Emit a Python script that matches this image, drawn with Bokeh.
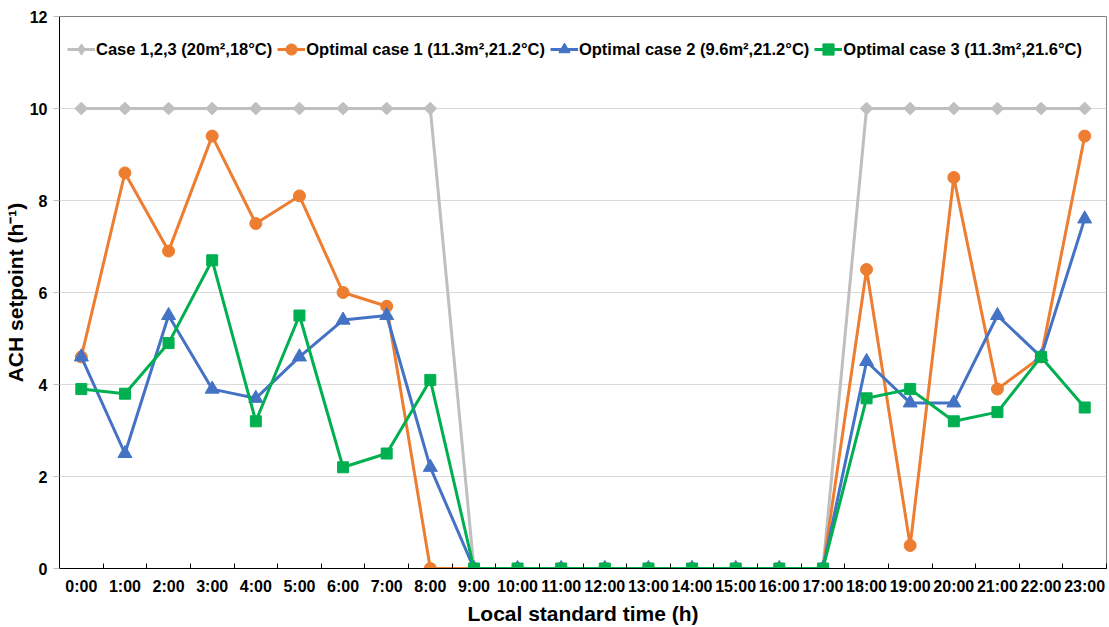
import math

import numpy as np
from bokeh.plotting import figure
from bokeh.models import FixedTicker, Legend, LegendItem, Range1d
from bokeh.embed import file_html
from bokeh.resources import INLINE

# Hourly ACH setpoints over one day
hours = ["0:00", "1:00", "2:00", "3:00", "4:00", "5:00", "6:00", "7:00",
         "8:00", "9:00", "10:00", "11:00", "12:00", "13:00", "14:00", "15:00",
         "16:00", "17:00", "18:00", "19:00", "20:00", "21:00", "22:00", "23:00"]

case_base = [10, 10, 10, 10, 10, 10, 10, 10, 10, 0, 0, 0, 0, 0, 0, 0, 0, 0,
             10, 10, 10, 10, 10, 10]
optimal_1 = [4.6, 8.6, 6.9, 9.4, 7.5, 8.1, 6.0, 5.7, 0, 0, 0, 0, 0, 0, 0, 0, 0, 0,
             6.5, 0.5, 8.5, 3.9, 4.6, 9.4]
optimal_2 = [4.6, 2.5, 5.5, 3.9, 3.7, 4.6, 5.4, 5.5, 2.2, 0, 0, 0, 0, 0, 0, 0, 0, 0,
             4.5, 3.6, 3.6, 5.5, 4.6, 7.6]
optimal_3 = [3.9, 3.8, 4.9, 6.7, 3.2, 5.5, 2.2, 2.5, 4.1, 0, 0, 0, 0, 0, 0, 0, 0, 0,
             3.7, 3.9, 3.2, 3.4, 4.6, 3.5]

series_labels = ["Case 1,2,3 (20m\u00b2,18\u00b0C)",
                 "Optimal case 1 (11.3m\u00b2,21.2\u00b0C)",
                 "Optimal case 2 (9.6m\u00b2,21.2\u00b0C)",
                 "Optimal case 3 (11.3m\u00b2,21.6\u00b0C)"]
y_ticks = [0, 2, 4, 6, 8, 10, 12]

FONT = "Liberation Sans"
x_idx = list(range(len(hours)))

p = figure(width=1109, height=627, output_backend="svg", toolbar_location=None,
           title=None, x_range=Range1d(-0.5, len(hours) - 0.5), y_range=Range1d(0, 12),
           min_border_left=59, min_border_right=3, min_border_top=16,
           min_border_bottom=58)
p.background_fill_color = "white"
p.border_fill_color = "white"
p.outline_line_color = "#808080"
p.outline_line_width = 1

# grid
p.xgrid.visible = False
p.ygrid.grid_line_color = "#D9D9D9"
p.ygrid.grid_line_width = 1

# x axis: labels at hour centres, tick marks on the boundaries between hours
xa = p.xaxis[0]
xa.ticker = FixedTicker(ticks=x_idx, minor_ticks=[i - 0.5 for i in range(len(hours) + 1)])
xa.major_label_overrides = {i: h for i, h in enumerate(hours)}
xa.major_tick_in = 0
xa.major_tick_out = 0
xa.minor_tick_in = 5
xa.minor_tick_out = 0
xa.minor_tick_line_color = "#000000"
xa.axis_line_color = "#000000"
xa.major_label_standoff = 9
xa.axis_label = "Local standard time (h)"
xa.axis_label_standoff = 4

ya = p.yaxis[0]
ya.ticker = FixedTicker(ticks=y_ticks)
ya.major_tick_in = 0
ya.major_tick_out = 6
ya.major_tick_line_color = "#BFBFBF"
ya.minor_tick_in = 0
ya.minor_tick_out = 0
ya.axis_line_color = "#000000"
ya.major_label_standoff = 6
ya.axis_label = "ACH setpoint (h\u207b\u00b9)"
ya.axis_label_standoff = 0

for ax in (xa, ya):
    ax.major_label_text_font = FONT
    ax.major_label_text_font_style = "bold"
    ax.major_label_text_font_size = "16px"
    ax.major_label_text_color = "#000000"
    ax.axis_label_text_font = FONT
    ax.axis_label_text_font_style = "bold"
    ax.axis_label_text_font_size = "21px"
    ax.axis_label_text_color = "#000000"

# (values, colour, marker, size, rotation, legend marker)
styles = [
    (case_base, "#BFBFBF", "square", 9, math.pi / 4, "diamond"),
    (optimal_1, "#ED7D31", "circle", 12, 0, None),
    (optimal_2, "#4472C4", "triangle", 14, 0, None),
    (optimal_3, "#00B050", "square", 11, 0, None),
]

items = []
for (vals, color, marker, size, rot, key_marker), label in zip(styles, series_labels):
    ln = p.line(x_idx, vals, line_color=color, line_width=3)
    sc = p.scatter(x_idx, vals, marker=marker, size=size, angle=rot,
                   fill_color=color, line_color=color)
    if key_marker is None:
        items.append(LegendItem(label=label, renderers=[ln, sc]))
    else:
        # rotated markers are drawn unrotated in legends, so the key uses a
        # diamond glyph holding a single undrawn (NaN) point
        key = p.scatter(x=np.array([np.nan]), y=np.array([np.nan]), marker=key_marker,
                        size=size, fill_color=color, line_color=color)
        items.append(LegendItem(label=label, renderers=[ln, key]))

legend = Legend(items=items, orientation="horizontal", location=(8, 504),
                glyph_width=28, glyph_height=30, label_height=30,
                label_standoff=1, spacing=5, padding=0, margin=0,
                border_line_color=None, background_fill_alpha=0,
                label_text_font=FONT, label_text_font_style="bold",
                label_text_font_size="16.5px", label_text_color="#000000")
p.add_layout(legend)

open("out.html", "w").write(file_html(p, INLINE))
